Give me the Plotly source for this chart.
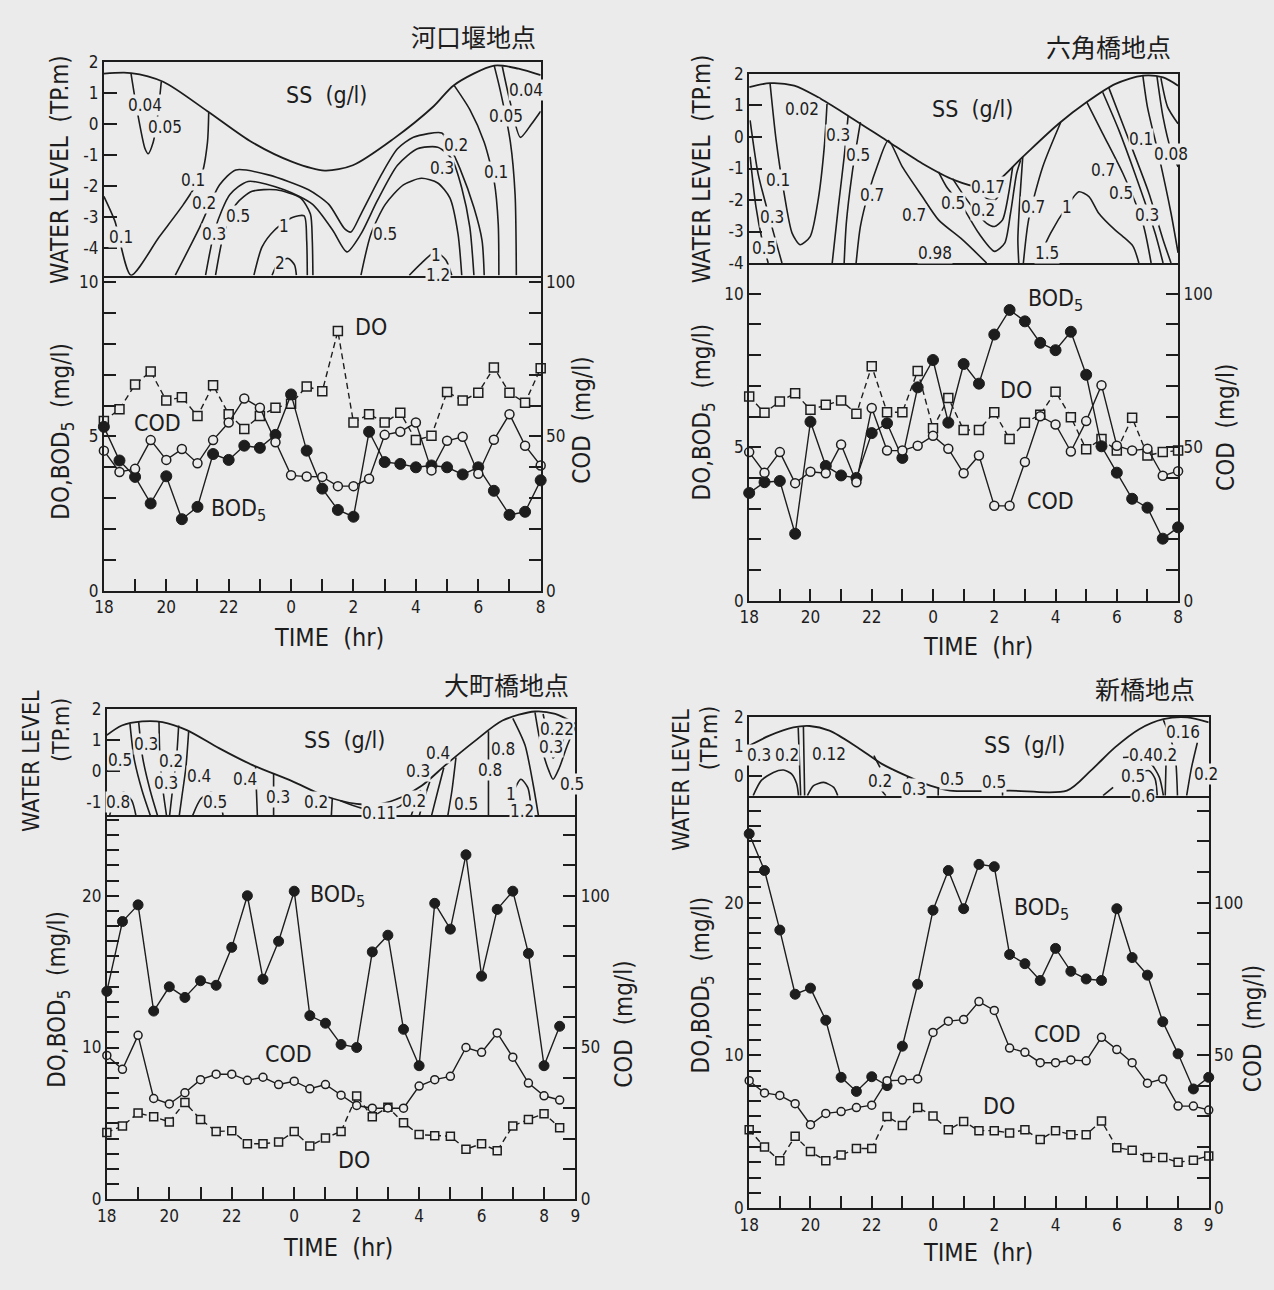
import plotly.graph_objects as go

W, H = 1274, 1290
BG = "#ebebeb"
INK = "#1d1d1d"
FONT = "Liberation Sans Narrow, DejaVu Sans Condensed, DejaVu Sans Mono, sans-serif"
JP_FONT = "Noto Sans CJK JP, Noto Sans CJK SC, sans-serif"

# ------------------------------------------------------------------ time base
# half-hourly sampling, hours elapsed since 18:00
T_18_TO_08 = [0.0, 0.5, 1.0, 1.5, 2.0, 2.5, 3.0, 3.5, 4.0, 4.5, 5.0, 5.5, 6.0, 6.5, 7.0,
              7.5, 8.0, 8.5, 9.0, 9.5, 10.0, 10.5, 11.0, 11.5, 12.0, 12.5, 13.0, 13.5, 14.0]
T_18_TO_0830 = T_18_TO_08 + [14.5]
T_18_TO_09 = T_18_TO_08 + [14.5, 15.0]

CLOCK_TEXT = {0: "18", 2: "20", 4: "22", 6: "0", 8: "2", 10: "4", 12: "6", 14: "8", 15: "9"}

# ------------------------------------------------------------ 河口堰地点 (A)
A_BOD = [5.31, 4.22, 3.69, 2.83, 3.71, 2.32, 2.72, 4.43, 4.24, 4.70, 4.63, 5.05, 6.36, 4.54, 3.31,
         2.62, 2.40, 5.15, 4.17, 4.11, 4.00, 4.06, 4.00, 3.77, 4.00, 3.24, 2.46, 2.56, 3.58]
A_COD = [45.4, 38.5, 39.5, 48.8, 42.4, 45.9, 41.3, 48.8, 54.5, 62.3, 59.3, 48.1, 37.4, 37.0, 36.9,
         33.9, 33.9, 36.3, 50.5, 51.5, 54.5, 39.0, 48.6, 49.9, 37.9, 48.9, 57.2, 47.0, 40.6]
A_DO = [5.50, 5.88, 6.68, 7.10, 6.16, 6.27, 5.66, 6.66, 5.72, 5.24, 5.66, 5.93, 6.06, 6.62, 6.46,
        8.41, 5.45, 5.72, 5.45, 5.77, 4.88, 5.02, 6.44, 6.16, 6.41, 7.23, 6.41, 6.09, 7.21]

SURF_A_T = [0.0, 0.87, 1.90, 3.32, 4.75, 6.04, 7.08, 7.98, 9.28, 10.57, 11.22, 12.51, 13.29, 14.0]
SURF_A_L = [1.63, 1.65, 1.37, 0.42, -0.58, -1.21, -1.49, -1.32, -0.47, 0.58, 1.26, 1.89, 1.79, 1.58]

SS_A_LINES = [
    ([0.0, 0.35, 0.87, 1.77, 2.55, 3.13, 3.32, 3.36], [-2.32, -3.11, -4.86, -3.63, -2.58, -1.63, -0.58, 0.37]),
    ([0.87, 1.06, 1.32, 1.42, 1.58, 1.71, 1.84], [1.63, 0.47, -0.79, -0.95, -0.58, 0.16, 1.37]),
    ([2.29, 3.07, 3.71, 4.23, 5.27, 6.56, 7.21, 7.72, 7.92, 8.24, 8.89, 9.41, 9.92, 10.83, 11.02, 11.41,
      11.86, 12.12, 12.19],
     [-4.86, -3.32, -1.95, -1.47, -1.63, -2.11, -2.58, -3.37, -3.47, -2.89, -1.63, -0.79, -0.42, -0.28,
      -0.58, -1.42, -2.68, -3.74, -4.86]),
    ([3.26, 3.58, 4.04, 4.62, 5.78, 6.69, 7.34, 7.79, 8.24, 8.76, 9.41, 10.05, 10.70, 11.15, 11.47, 11.73, 11.86],
     [-4.86, -3.32, -2.26, -1.84, -2.11, -2.58, -3.42, -4.11, -3.53, -2.47, -1.32, -0.79, -0.74, -1.11,
      -2.05, -3.32, -4.86]),
    ([3.58, 3.84, 4.23, 4.75, 5.52, 6.3, 6.62, 6.68, 6.7], [-4.86, -3.53, -2.58, -2.16, -2.11, -2.37, -2.89, -3.74, -4.86]),
    ([4.81, 5.07, 5.46, 6.04, 6.42, 6.5, 6.52], [-4.86, -3.95, -3.42, -3.0, -2.95, -3.74, -4.86]),
    ([5.39, 5.59, 5.91, 6.11, 6.17], [-4.86, -4.47, -4.32, -4.53, -4.86]),
    ([8.24, 8.56, 9.02, 9.6, 10.18, 10.7, 11.09, 11.35, 11.47], [-4.86, -3.53, -2.58, -1.95, -1.74, -1.89, -2.37, -3.53, -4.86]),
    ([9.79, 10.18, 10.63, 10.96, 11.15], [-4.86, -4.47, -4.11, -4.37, -4.86]),
    ([11.22, 11.73, 12.19, 12.51, 12.64, 12.66], [1.26, 0.47, -0.58, -1.84, -3.21, -4.86]),
    ([12.51, 12.7, 13.03, 13.18, 13.22], [1.89, 1.11, -0.58, -2.26, -4.86]),
    ([12.77, 13.03, 13.35, 13.7, 14.0], [1.86, 0.68, -0.42, 0.0, 0.42]),
]
SS_A_LABELS = [(1.32, 0.63, "0.04"), (1.95, -0.1, "0.05"), (2.87, -1.79, "0.1"), (0.54, -3.63, "0.1"),
               (3.2, -2.53, "0.2"), (3.52, -3.53, "0.3"), (4.3, -2.95, "0.5"), (5.76, -3.26, "1"),
               (5.63, -4.47, "2"), (9.02, -3.53, "0.5"), (10.63, -4.21, "1"), (10.7, -4.84, "1.2"),
               (11.28, -0.68, "0.2"), (10.83, -1.42, "0.3"), (12.57, -1.53, "0.1"), (12.9, 0.26, "0.05"),
               (13.54, 1.1, "0.04")]
SS_A_LOOSE = [(5.85, -5.32, "2.3")]

# ------------------------------------------------------------ 六角橋地点 (B)
B_BOD = [3.51, 3.86, 3.90, 2.18, 5.83, 4.39, 4.08, 4.00, 5.46, 5.78, 4.65, 6.95, 7.84, 5.80, 7.71,
         7.07, 8.67, 9.47, 9.10, 8.40, 8.16, 8.76, 7.36, 5.03, 4.17, 3.32, 3.03, 2.02, 2.39]
B_COD = [48.4, 41.7, 48.4, 38.3, 42.0, 41.5, 50.9, 38.6, 62.8, 48.9, 48.9, 50.5, 53.7, 49.5, 41.5,
         47.3, 30.9, 30.9, 45.2, 60.1, 57.4, 48.6, 58.5, 70.2, 50.5, 48.9, 49.5, 40.7, 42.2]
B_DO = [6.65, 6.12, 6.49, 6.76, 6.22, 6.38, 6.52, 6.09, 7.64, 6.14, 6.14, 7.48, 5.62, 6.60, 5.56,
        5.56, 6.14, 5.27, 5.80, 6.06, 6.81, 5.98, 4.93, 5.27, 4.89, 5.96, 4.73, 4.84, 4.89]

SURF_B_T = [0.0, 0.68, 1.47, 2.25, 3.3, 4.48, 5.65, 6.7, 7.49, 8.01, 8.93, 10.1, 11.02, 11.94, 12.85, 13.51, 14.0]
SURF_B_L = [1.58, 1.71, 1.63, 1.26, 0.63, -0.11, -0.84, -1.37, -1.58, -1.47, -0.63, 0.42, 1.11, 1.68, 1.95, 1.89, 1.63]

SS_B_LINES = [
    ([0.68, 0.88, 1.14, 1.4, 1.66, 1.99, 2.25, 2.45, 2.54], [1.71, -0.11, -1.79, -3.05, -3.42, -3.16, -2.0, -0.32, 1.05]),
    ([0.03, 0.29, 0.68, 1.07], [0.53, -1.16, -2.63, -4.0]),
    ([0.03, 0.22, 0.42, 0.62], [-0.63, -2.21, -3.26, -4.0]),
    ([3.23, 3.1, 2.91, 2.71], [0.68, -0.63, -2.21, -4.0]),
    ([3.63, 3.36, 3.17, 3.1], [0.47, -1.16, -2.74, -4.0]),
    ([3.49, 3.63, 3.89, 4.21, 4.54, 5.0, 5.65, 6.18, 6.96, 7.75], [-4.0, -2.84, -1.79, -0.84, -0.11, -0.95, -1.89, -2.63, -3.26, -4.0]),
    ([6.18, 6.44, 6.96, 7.49, 8.01, 8.34, 8.53, 8.73, 8.86], [-1.11, -1.58, -2.21, -3.05, -3.63, -3.37, -2.42, -1.16, -0.74]),
    ([6.64, 6.96, 7.36, 7.75, 8.01, 8.27, 8.47, 8.6], [-1.32, -1.79, -2.32, -2.74, -2.84, -2.63, -1.79, -0.95]),
    ([7.49, 7.75, 8.01, 8.2, 8.34], [-1.63, -1.95, -2.0, -1.79, -1.47]),
    ([8.93, 8.82, 8.77, 8.8], [-0.63, -2.21, -3.26, -4.0]),
    ([10.17, 9.58, 9.12, 8.95], [0.47, -0.95, -2.63, -4.0]),
    ([9.38, 9.84, 10.37, 10.76, 11.09, 11.41, 11.94, 12.2, 12.53, 12.72], [-4.0, -3.05, -2.21, -1.74, -1.89, -2.42, -2.95, -3.16, -3.47, -4.0]),
    ([11.02, 11.54, 12.2, 12.85, 13.12], [1.11, 0.11, -1.16, -2.74, -4.0]),
    ([11.54, 12.07, 12.59, 13.25, 13.51], [1.42, 0.21, -1.16, -3.05, -4.0]),
    ([11.74, 12.4, 13.05, 13.51, 13.77], [1.56, -0.11, -1.79, -3.26, -4.0]),
    ([12.85, 13.0, 13.38, 13.77, 14.0], [1.95, 0.95, -0.63, -2.42, -3.68]),
    ([13.31, 13.51, 13.77, 14.0], [1.93, 0.63, -0.42, -0.95]),
    ([13.44, 13.66, 14.0], [1.87, 0.95, 0.42]),
]
SS_B_LABELS = [(1.73, 0.89, "0.02"), (0.94, -1.37, "0.1"), (0.75, -2.53, "0.3"), (0.48, -3.53, "0.5"),
               (2.91, 0.05, "0.3"), (3.56, -0.58, "0.5"), (4.02, -1.84, "0.7"), (5.39, -2.47, "0.7"),
               (6.05, -3.68, "0.98"), (6.64, -2.11, "0.5"), (7.81, -1.58, "0.17"), (7.62, -2.32, "0.2"),
               (9.25, -2.21, "0.7"), (10.37, -2.21, "1"), (9.71, -3.68, "1.5"), (11.54, -1.05, "0.7"),
               (12.13, -1.79, "0.5"), (12.98, -2.47, "0.3"), (12.79, -0.05, "0.1"), (13.77, -0.53, "0.08"),
               (14.05, 0.95, "0.05")]
SS_B_LOOSE = []

# ------------------------------------------------------------ 大町橋地点 (C)
C_BOD = [13.7, 18.3, 19.4, 12.4, 14.0, 13.3, 14.4, 14.1, 16.6, 20.0, 14.5, 17.0, 20.3, 12.1, 11.6,
         10.2, 10.0, 16.3, 17.4, 11.2, 8.8, 19.5, 17.8, 22.7, 14.7, 19.1, 20.3, 16.2, 8.8, 11.4]
C_COD = [47.4, 42.8, 54.0, 33.2, 31.4, 35.1, 39.4, 41.2, 41.2, 39.2, 40.2, 37.8, 38.9, 36.4, 37.8,
         34.3, 30.9, 30.0, 30.1, 30.0, 37.3, 39.4, 40.5, 50.0, 48.4, 54.8, 46.8, 38.3, 34.1, 32.7]
C_DO = [4.40, 4.83, 5.68, 5.43, 5.10, 6.38, 5.26, 4.47, 4.51, 3.66, 3.66, 3.77, 4.47, 3.51, 4.04,
        4.47, 6.81, 5.43, 6.06, 5.04, 4.26, 4.19, 4.15, 3.30, 3.66, 3.19, 4.83, 5.26, 5.64, 4.72]

SURF_C_T = [0.0, 0.48, 1.13, 1.78, 2.56, 3.59, 4.63, 5.93, 6.96, 8.0, 8.78, 9.43, 10.08, 10.86, 11.76,
            12.67, 13.71, 14.36, 15.0]
SURF_C_L = [1.16, 1.47, 1.6, 1.58, 1.32, 0.74, 0.21, -0.32, -0.79, -1.05, -1.05, -0.84, -0.47, 0.21,
            0.95, 1.63, 1.92, 1.84, 1.53]

SS_C_LINES = [
    ([0.09, 0.28, 0.54, 0.8, 0.93], [-1.42, -0.84, -0.68, -0.95, -1.42]),
    ([0.74, 0.87, 1.13, 1.39], [1.53, 0.42, -0.63, -1.42]),
    ([1.02, 1.15, 1.39, 1.62], [1.58, 0.42, -0.63, -1.42]),
    ([1.67, 1.7, 1.8, 1.91], [1.6, 0.42, -0.63, -1.42]),
    ([2.3, 2.23, 2.1, 2.01], [1.47, 0.42, -0.63, -1.42]),
    ([2.62, 2.53, 2.4, 2.32], [1.28, 0.11, -0.84, -1.42]),
    ([2.75, 3.01, 3.33, 3.59, 3.72], [-1.42, -0.89, -0.68, -0.84, -1.42]),
    ([4.76, 4.79, 4.82], [0.15, -0.63, -1.42]),
    ([5.34, 5.34, 5.34], [-0.08, -0.63, -1.42]),
    ([7.22, 7.19], [-0.86, -1.42]),
    ([7.48, 8.13, 8.78, 9.36, 9.62], [-0.95, -1.18, -1.24, -1.14, -0.95]),
    ([10.05, 9.88, 9.75], [-0.61, -1.05, -1.42]),
    ([10.34, 10.14, 10.01], [-0.34, -0.95, -1.42]),
    ([10.79, 10.6, 10.4], [0.11, -0.63, -1.42]),
    ([11.18, 11.05, 10.92], [0.44, -0.63, -1.42]),
    ([12.22, 12.22, 12.22], [1.28, -0.11, -1.42]),
    ([12.93, 13.04, 13.26, 13.48, 13.61], [-1.42, -0.63, -0.26, -0.53, -1.42]),
    ([13.0, 13.39, 13.65, 13.82], [1.7, 0.84, -0.42, -1.42]),
    ([13.71, 13.9, 14.16, 14.29, 14.49, 14.75, 15.0], [1.89, 0.84, 0.0, -0.26, 0.11, 0.84, 1.42]),
    ([13.97, 14.16, 14.29, 14.49, 14.81], [1.84, 0.95, 0.42, 0.74, 1.47]),
]
SS_C_LABELS = [(1.26, 0.89, "0.3"), (0.42, 0.37, "0.5"), (2.04, 0.32, "0.2"), (1.91, -0.37, "0.3"),
               (2.94, -0.16, "0.4"), (0.35, -1.0, "0.8"), (3.46, -1.0, "0.5"), (4.44, -0.26, "0.4"),
               (5.47, -0.82, "0.3"), (6.71, -1.0, "0.2"), (8.72, -1.35, "0.11"), (9.82, -0.95, "0.2"),
               (9.97, 0.0, "0.3"), (10.6, 0.58, "0.4"), (11.5, -1.05, "0.5"), (12.28, 0.05, "0.8"),
               (12.7, 0.72, "0.8"), (14.23, 0.79, "0.3"), (14.42, 1.37, "0.22"), (12.93, -0.74, "1"),
               (13.29, -1.28, "1.2"), (14.88, -0.42, "0.5")]
SS_C_LOOSE = []

# ------------------------------------------------------------ 新橋地点 (D)
D_BOD = [24.5, 22.1, 18.2, 14.0, 14.4, 12.3, 8.56, 7.64, 8.6, 8.02, 10.6, 14.65, 19.5, 22.1, 19.6,
         22.5, 22.35, 16.6, 16.0, 14.9, 17.0, 15.5, 15.0, 14.9, 19.6, 16.4, 15.25, 12.2, 10.1, 7.8, 8.56]
D_COD = [41.7, 37.7, 36.9, 34.2, 27.3, 31.0, 31.6, 32.9, 33.7, 41.7, 41.9, 42.3, 57.5, 61.2, 61.7,
         67.6, 64.7, 52.4, 51.0, 47.6, 47.6, 48.5, 48.2, 55.9, 51.9, 47.6, 40.9, 42.3, 33.4, 33.4, 32.1]
D_DO = [5.13, 4.0, 3.1, 4.7, 3.7, 3.1, 3.47, 3.9, 3.9, 6.0, 5.41, 6.59, 6.03, 5.13, 5.67,
        5.07, 5.07, 4.92, 5.13, 4.49, 5.07, 4.81, 4.81, 5.71, 3.96, 3.79, 3.32, 3.32, 3.0, 3.14, 3.42]

SURF_D_T = [0.0, 0.66, 1.44, 1.97, 2.62, 3.54, 4.33, 5.12, 5.91, 6.56, 8.5, 10.37, 11.15, 11.94, 12.73,
            13.52, 14.3, 15.0]
SURF_D_L = [1.02, 1.36, 1.64, 1.69, 1.53, 0.96, 0.4, 0.0, -0.34, -0.51, -0.51, -0.51, 0.17, 0.96, 1.58,
            1.92, 1.98, 1.81]

SS_D_LINES = [
    ([0.13, 0.39, 0.79, 1.12, 1.38, 1.55, 1.61], [-0.68, -0.17, 0.11, 0.19, 0.06, -0.28, -0.68]),
    ([1.6, 1.64, 1.68], [1.64, 0.5, -0.68]),
    ([1.77, 1.79, 1.81], [1.66, 0.5, -0.68]),
    ([1.9, 2.1, 2.43, 2.76, 2.89], [-0.68, -0.34, -0.23, -0.4, -0.68]),
    ([4.07, 4.27], [0.68, 0.28]),
    ([4.33, 4.46], [-0.51, -0.68]),
    ([5.18, 5.05], [-0.03, -0.68]),
    ([6.17, 6.17], [-0.4, -0.68]),
    ([8.27, 8.27], [-0.51, -0.68]),
    ([11.55, 11.88], [-0.68, -0.4]),
    ([12.2, 12.73, 13.12, 13.39, 13.52], [0.62, 0.62, 0.4, -0.06, -0.68]),
    ([12.73, 13.06, 13.25, 13.32], [0.11, 0.17, -0.11, -0.68]),
    ([13.52, 13.71, 13.91, 13.98], [1.89, 1.41, 0.62, -0.68]),
    ([13.62, 13.6, 13.58], [0.9, 0.17, -0.68]),
    ([14.63, 14.44, 14.28], [1.13, 0.28, -0.68]),
]
SS_D_LABELS = [(0.33, 0.7, "0.3"), (1.25, 0.7, "0.2"), (2.62, 0.73, "0.12"), (4.27, -0.17, "0.2"),
               (5.38, -0.45, "0.3"), (6.63, -0.11, "0.5"), (8.0, -0.23, "0.5"), (12.8, 0.7, "0.4"),
               (13.58, 0.7, "0.2"), (14.17, 1.47, "0.16"), (12.53, 0.0, "0.5"), (14.9, 0.06, "0.2"),
               (12.86, -0.68, "0.6"), (0.85, -0.71, "0.34")]
SS_D_LOOSE = [(2.43, -1.13, "0.2")]

# ------------------------------------------------------------ panel geometry (pixels)
PANELS = [
    dict(title="河口堰地点", title_xy=(469, 26), x0=95, x1=537, ytop=53, ysplit=270, ybot=590,
         tmax=14, lev=[-4.88, 2.0], lev_ticks=[2, 1, 0, -1, -2, -3, -4], top=10.2, f=10,
         left_ticks=list(range(0, 11)), left_lab=[0, 5, 10], right_step=10,
         t=T_18_TO_08, bod=A_BOD, cod=A_COD, do=A_DO,
         surf=(SURF_A_T, SURF_A_L), lines=SS_A_LINES, labels=SS_A_LABELS, loose=SS_A_LOOSE,
         ss_xy=(7.14, 0.95), tags=[("DO", 8.56, 8.55), ("COD", 1.71, 5.45), ("BOD<sub>5</sub>", 4.3, 2.62)],
         wl=[("WATER LEVEL  (TP.m)", 51, 162, 24)], dobod=(53, 428), codt=(578, 417), time=(323, 637),
         msize=(11, 9, 9)),
    dict(title="六角橋地点", title_xy=(1112, 37), x0=748, x1=1182, ytop=65, ysplit=257, ybot=600,
         tmax=14, lev=[-4.0, 2.0], lev_ticks=[2, 1, 0, -1, -2, -3, -4], top=11.0, f=10,
         left_ticks=list(range(0, 11)), left_lab=[0, 5, 10], right_step=10,
         t=T_18_TO_08, bod=B_BOD, cod=B_COD, do=B_DO,
         surf=(SURF_B_T, SURF_B_L), lines=SS_B_LINES, labels=SS_B_LABELS, loose=SS_B_LOOSE,
         ss_xy=(7.29, 0.89), tags=[("BOD<sub>5</sub>", 10.0, 9.79), ("DO", 8.7, 6.86), ("COD", 9.82, 3.24)],
         wl=[("WATER LEVEL  (TP.m)", 700, 161, 24)], dobod=(702, 408), codt=(1231, 424), time=(980, 647),
         msize=(11, 9, 9)),
    dict(title="大町橋地点", title_xy=(502, 685), x0=98, x1=572, ytop=710, ysplit=818, ybot=1208,
         tmax=15, lev=[-1.42, 2.0], lev_ticks=[2, 1, 0, -1], top=25.3, f=5,
         left_ticks=list(range(0, 26)), left_lab=[0, 10, 20], right_step=10,
         t=T_18_TO_0830, bod=C_BOD, cod=C_COD, do=C_DO,
         surf=(SURF_C_T, SURF_C_L), lines=SS_C_LINES, labels=SS_C_LABELS, loose=SS_C_LOOSE,
         ss_xy=(7.61, 1.0), tags=[("BOD<sub>5</sub>", 7.38, 20.0), ("COD", 5.82, 9.57), ("DO", 7.9, 2.6)],
         wl=[("WATER LEVEL", 21, 763, 23), ("(TP.m)", 51, 731, 23)], dobod=(49, 1005), codt=(621, 1030),
         time=(332, 1257), msize=(10, 8, 8)),
    dict(title="新橋地点", title_xy=(1149, 689), x0=748, x1=1213, ytop=718, ysplit=798, ybot=1217,
         tmax=15, lev=[-0.68, 2.0], lev_ticks=[2, 1, 0], top=27.0, f=5,
         left_ticks=list(range(0, 27)), left_lab=[0, 10, 20], right_step=10,
         t=T_18_TO_09, bod=D_BOD, cod=D_COD, do=D_DO,
         surf=(SURF_D_T, SURF_D_L), lines=SS_D_LINES, labels=SS_D_LABELS, loose=SS_D_LOOSE,
         ss_xy=(8.99, 1.05), tags=[("BOD<sub>5</sub>", 9.54, 19.6), ("COD", 10.07, 11.4), ("DO", 8.17, 6.67)],
         wl=[("WATER LEVEL", 679, 782, 23), ("(TP.m)", 707, 740, 23)], dobod=(701, 990), codt=(1258, 1035),
         time=(980, 1262), msize=(10, 8, 8)),
]


def akey(kind, n):
    return f"{kind}axis" if n == 1 else f"{kind}axis{n}"


def aref(kind, n):
    return kind if n == 1 else f"{kind}{n}"


def note(x, y, text, size, xref="paper", yref="paper", family=FONT, angle=0, bg=None):
    if xref == "paper":
        x = x / W
    if yref == "paper":
        y = 1 - y / H
    a = dict(x=x, y=y, xref=xref, yref=yref, text=text, showarrow=False, xanchor="center",
             yanchor="middle", textangle=angle, font=dict(family=family, size=size, color=INK))
    if bg:
        a.update(bgcolor=bg, borderpad=0)
    return a


fig = go.Figure()
layout = dict(width=W, height=H, margin=dict(l=0, r=0, t=0, b=0), paper_bgcolor=BG,
              plot_bgcolor=BG, showlegend=False, font=dict(family=FONT, color=INK, size=17))
ann = []
tick_font = dict(family=FONT, size=17, color=INK)
base_axis = dict(showgrid=False, zeroline=False, linecolor=INK, linewidth=2, tickcolor=INK,
                 tickwidth=1.6, tickfont=tick_font, fixedrange=True)

for k, p in enumerate(PANELS):
    xc, xl = 2 * k + 1, 2 * k + 2
    yc, yl, yr = 3 * k + 1, 3 * k + 2, 3 * k + 3
    xdom = [p["x0"] / W, p["x1"] / W]
    hours = list(range(0, p["tmax"] + 1))

    # water-level / SS section
    layout[akey("x", xc)] = dict(base_axis, domain=xdom, range=[0, p["tmax"]], anchor=aref("y", yc),
                                showline=True, mirror=True, showticklabels=False, ticks="")
    layout[akey("y", yc)] = dict(base_axis, domain=[1 - p["ysplit"] / H, 1 - p["ytop"] / H],
                                range=p["lev"], anchor=aref("x", xc), showline=True, mirror=True,
                                ticks="inside", ticklen=13, tickvals=p["lev_ticks"],
                                ticktext=[str(v) for v in p["lev_ticks"]])
    # water quality section
    layout[akey("x", xl)] = dict(base_axis, domain=xdom, range=[0, p["tmax"]], anchor=aref("y", yl),
                                showline=True, ticks="inside", ticklen=12, tickvals=hours,
                                ticktext=[CLOCK_TEXT.get(h, "") for h in hours])
    layout[akey("y", yl)] = dict(base_axis, domain=[1 - p["ybot"] / H, 1 - p["ysplit"] / H],
                                range=[0, p["top"]], anchor=aref("x", xl), showline=True,
                                ticks="inside", ticklen=12, tickvals=p["left_ticks"],
                                ticktext=[str(v) if v in p["left_lab"] else "" for v in p["left_ticks"]])
    rticks = list(range(0, int(p["top"] * p["f"]) + 1, p["right_step"]))
    layout[akey("y", yr)] = dict(base_axis, overlaying=aref("y", yl), side="right", anchor=aref("x", xl),
                                range=[0, p["top"] * p["f"]], showline=True, ticks="inside", ticklen=12,
                                tickvals=rticks,
                                ticktext=[str(v) if v in (0, 50, 100) else "" for v in rticks])

    xa, ya = aref("x", xc), aref("y", yc)
    # tide surface
    fig.add_trace(go.Scatter(x=p["surf"][0], y=p["surf"][1], mode="lines", xaxis=xa, yaxis=ya,
                             line=dict(color=INK, width=1.8, shape="spline", smoothing=0.8),
                             hoverinfo="skip"))
    # SS isolines
    for tx, lv in p["lines"]:
        fig.add_trace(go.Scatter(x=tx, y=lv, mode="lines", xaxis=xa, yaxis=ya,
                                 line=dict(color=INK, width=1.6, shape="spline", smoothing=0.7),
                                 hoverinfo="skip"))
    for tx, lv, txt in p["labels"]:
        ann.append(note(tx, lv, txt, 17, xref=xa, yref=ya, bg=BG))
    for tx, lv, txt in p["loose"]:
        ann.append(note(tx, lv, txt, 17, xref=xa, yref=ya))
    ann.append(note(p["ss_xy"][0], p["ss_xy"][1], "SS  (g/l)", 23, xref=xa, yref=ya))

    xb, yb, yc2 = aref("x", xl), aref("y", yl), aref("y", yr)
    s_bod, s_open, s_sq = p["msize"]
    fig.add_trace(go.Scatter(x=p["t"], y=p["do"], mode="lines+markers", xaxis=xb, yaxis=yb,
                             line=dict(color=INK, width=1.4, dash="6px,4px"), cliponaxis=False,
                             marker=dict(symbol="square", size=s_sq, color=BG,
                                         line=dict(color=INK, width=1.5)), hoverinfo="skip"))
    fig.add_trace(go.Scatter(x=p["t"], y=p["cod"], mode="lines+markers", xaxis=xb, yaxis=yc2,
                             line=dict(color=INK, width=1.4), cliponaxis=False,
                             marker=dict(symbol="circle", size=s_open, color=BG,
                                         line=dict(color=INK, width=1.5)), hoverinfo="skip"))
    fig.add_trace(go.Scatter(x=p["t"], y=p["bod"], mode="lines+markers", xaxis=xb, yaxis=yb,
                             line=dict(color=INK, width=1.4), cliponaxis=False,
                             marker=dict(symbol="circle", size=s_bod, color=INK,
                                         line=dict(color=INK, width=1)), hoverinfo="skip"))
    for txt, tx, v in p["tags"]:
        ann.append(note(tx, v, txt, 23, xref=xb, yref=yb))

    # station name, axis titles
    ann.append(note(p["title_xy"][0], p["title_xy"][1], p["title"], 25, family=JP_FONT))
    for txt, px, py, fs in p["wl"]:
        ann.append(note(px, py, txt, fs, angle=-90))
    ann.append(note(p["dobod"][0], p["dobod"][1], "DO,BOD<sub>5</sub>  (mg/l)", 24, angle=-90))
    ann.append(note(p["codt"][0], p["codt"][1], "COD  (mg/l)", 24, angle=-90))
    ann.append(note(p["time"][0], p["time"][1], "TIME  (hr)", 25))

layout["annotations"] = ann
fig.update_layout(**layout)
fig.write_html("out.html")
